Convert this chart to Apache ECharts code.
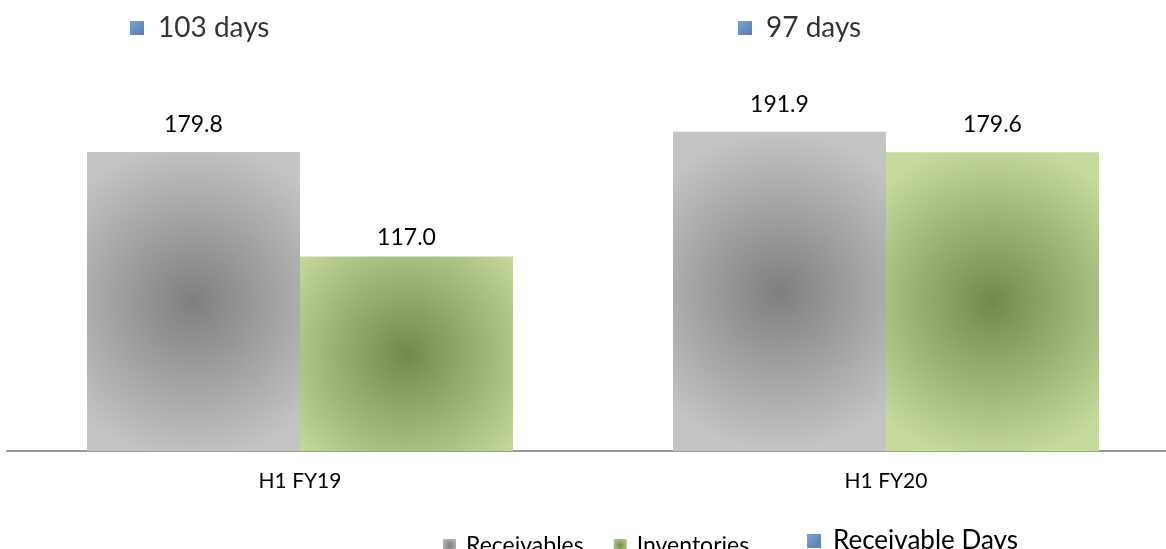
<!DOCTYPE html>
<html>
<head>
<meta charset="utf-8">
<script src="https://cdn.jsdelivr.net/npm/echarts@6/dist/echarts.min.js"></script>
<style>
  html, body { margin: 0; padding: 0; background: #fff; }
  #chart { width: 1166px; height: 549px; }
</style>
</head>
<body>
<div id="chart"></div>
<script>
const categories = ['H1 FY19', 'H1 FY20'];
const receivables = [179.8, 191.9];
const inventories = [117.0, 179.6];
const receivableDays = [103, 97];

const font = 'Lato, "Open Sans", sans-serif';

const grayFill = {
  type: 'radial', x: 0.5, y: 0.5, r: 0.75,
  colorStops: [
    { offset: 0, color: '#7f7f7f' },
    { offset: 1, color: '#c4c4c4' }
  ]
};
const greenFill = {
  type: 'radial', x: 0.5, y: 0.5, r: 0.75,
  colorStops: [
    { offset: 0, color: '#718a4a' },
    { offset: 1, color: '#c6da9e' }
  ]
};
const blueFill = {
  type: 'linear', x: 0, y: 0, x2: 1, y2: 1,
  colorStops: [
    { offset: 0, color: '#5a8ccb' },
    { offset: 1, color: '#2e5c97' }
  ]
};

// label gap above each bar, as placed in the source
const recvGap = [16, 16];
const invGap = [7, 16];
// square offsets for the days markers
const dayOffsets = [[-163, 0], [-141, 0]];

const chart = echarts.init(document.getElementById('chart'));

const option = {
  animation: false,
  textStyle: { fontFamily: font },
  legend: [
    {
      data: ['Receivables', 'Inventories'],
      icon: 'rect',
      left: 438,
      top: 529,
      itemWidth: 13,
      itemHeight: 13,
      itemGap: 30,
      textStyle: { fontSize: 23, color: '#000', padding: [0, 0, 0, 5] }
    },
    {
      data: ['Receivable Days'],
      icon: 'rect',
      left: 802,
      top: 523,
      itemWidth: 14,
      itemHeight: 14,
      textStyle: { fontSize: 26, color: '#000', padding: [0, 0, 0, 7] }
    }
  ],
  grid: [
    { left: 7, width: 1172, top: 118.4, bottom: 98, outerBoundsMode: 'none' },
    { left: 7, width: 1172, top: 28, height: 0, outerBoundsMode: 'none' }
  ],
  xAxis: [
    {
      type: 'category',
      data: categories,
      gridIndex: 0,
      axisTick: { show: false },
      axisLine: { lineStyle: { color: '#9a9a9a', width: 2 } },
      axisLabel: { color: '#000', fontSize: 21, margin: 20 }
    },
    {
      type: 'category',
      data: categories,
      gridIndex: 1,
      show: false
    }
  ],
  yAxis: [
    { type: 'value', min: 0, max: 200, gridIndex: 0, show: false },
    { type: 'value', min: 0, max: 200, gridIndex: 1, show: false }
  ],
  series: [
    {
      name: 'Receivables',
      type: 'bar',
      barGap: '0%',
      barCategoryGap: '27.3%',
      itemStyle: { color: grayFill },
      label: {
        show: true, position: 'top', color: '#000', fontSize: 23,
        formatter: p => p.value.toFixed(1)
      },
      data: receivables.map((v, i) => ({ value: v, label: { distance: recvGap[i] } }))
    },
    {
      name: 'Inventories',
      type: 'bar',
      itemStyle: { color: greenFill },
      label: {
        show: true, position: 'top', color: '#000', fontSize: 23,
        formatter: p => p.value.toFixed(1)
      },
      data: inventories.map((v, i) => ({ value: v, label: { distance: invGap[i] } }))
    },
    {
      name: 'Receivable Days',
      type: 'scatter',
      xAxisIndex: 1,
      yAxisIndex: 1,
      symbol: 'rect',
      symbolSize: 14,
      itemStyle: { color: blueFill },
      label: {
        show: true, position: 'right', distance: 14, color: '#000', fontSize: 28,
        formatter: p => p.value + ' days'
      },
      data: receivableDays.map((v, i) => ({ value: v, symbolOffset: dayOffsets[i] }))
    }
  ]
};

chart.setOption(option);
</script>
</body>
</html>
